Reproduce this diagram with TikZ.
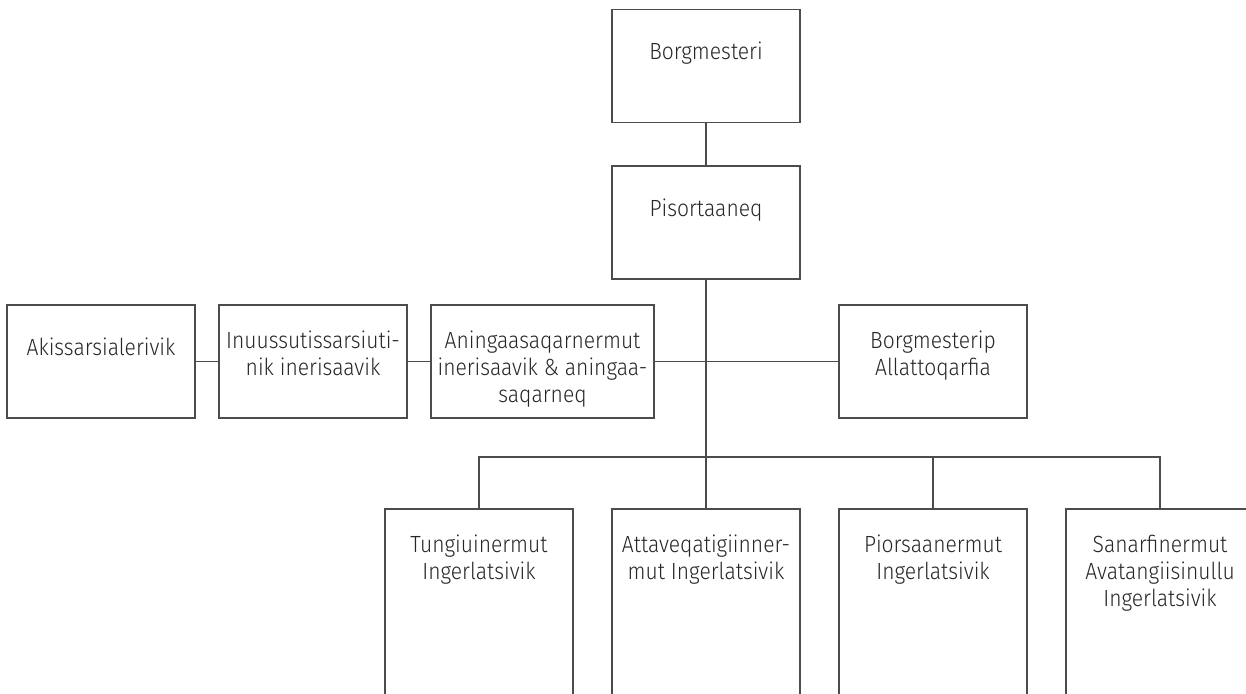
\documentclass[tikz,border=0pt]{standalone}
\usepackage{fontspec}
\setmainfont{Fira Sans Light}[FakeStretch=0.9]
\usetikzlibrary{positioning}

\begin{document}
\begin{tikzpicture}[x=0.5pt, y=-0.5pt,
    box/.style={draw=black!70, line width=0.6pt, minimum width=94pt, minimum height=56.5pt, inner sep=0pt},
    lbl/.style={text=black!85, align=center, inner sep=0pt, font=\fontsize{11.7}{13.5}\selectfont},
    edge/.style={draw=black!70, line width=0.6pt}]
            \useasboundingbox (0,0) rectangle (1246,693);
            \clip (0,0) rectangle (1246,693);

            %boxes
            \node[box] (bm) at (706,66) {};
            \node[box] (pis) at (706,222.5) {};
            \node[box] (aki) at (101,361.5) {};
            \node[box] (inu) at (313,361.5) {};
            \node[box, minimum width=111.5pt] (ani) at (542.5,361.5) {};
            \node[box] (bma) at (933,361.5) {};
            \node[box, minimum height=130pt] (tun) at (479,639) {};
            \node[box, minimum height=130pt] (att) at (706,639) {};
            \node[box, minimum height=130pt] (pio) at (933,639) {};
            \node[box, minimum height=130pt] (san) at (1160,639) {};

            %texts
            \node[lbl, below=16.5pt of bm.north] (bm-t) {Borgmesteri};
            \node[lbl, below=16.5pt of pis.north] (pis-t) {Pisortaaneq};
            \node[lbl, below=16.5pt of aki.north] (aki-t) {Akissarsialerivik};
            \node[lbl, below=13pt of inu.north] (inu-t) {Inuussutissarsiuti-\\nik inerisaavik};
            \node[lbl, below=13pt of ani.north] (ani-t) {Aningaasaqarnermut\\inerisaavik \& aningaa-\\saqarneq};
            \node[lbl, below=13pt of bma.north] (bma-t) {Borgmesterip\\Allattoqarfia};
            \node[lbl, below=13pt of tun.north] (tun-t) {Tungiuinermut\\Ingerlatsivik};
            \node[lbl, below=13pt of att.north] (att-t) {Attaveqatigiinner-\\mut Ingerlatsivik};
            \node[lbl, below=13pt of pio.north] (pio-t) {Piorsaanermut\\Ingerlatsivik};
            \node[lbl, below=13pt of san.north] (san-t) {Sanarfinermut\\Avatangiisinullu\\Ingerlatsivik};

            %edges
            \coordinate (hub) at (706,457);
            \draw[edge] (bm) -- (pis);
            \draw[edge] (pis) -- (att);
            \draw[edge] (aki) -- (inu);
            \draw[edge] (inu) -- (ani);
            \draw[edge] (ani) -- (bma);
            \draw[edge] (tun.north) -- (tun.north |- hub) -- (san.north |- hub) -- (san.north);
            \draw[edge] (pio.north) -- (pio.north |- hub);
        \end{tikzpicture}
\end{document}
